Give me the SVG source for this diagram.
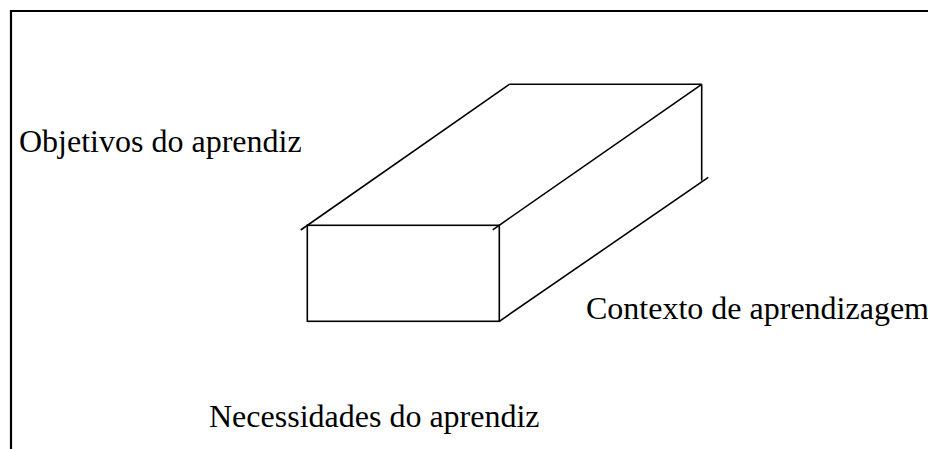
<svg xmlns="http://www.w3.org/2000/svg" width="928" height="449" viewBox="0 0 928 449">
<style>
.frame{fill:none;stroke:#000;stroke-width:2.2}
.edge{fill:none;stroke:#000;stroke-width:1.6;stroke-linecap:butt}
.lbl{font-family:"Liberation Serif","Times New Roman",serif;font-size:32px;fill:#000}
</style>
<rect width="928" height="449" fill="#fff"/>
<g id="frame">
<polyline class="frame" points="11,449 11,11 928,11"/>
</g>
<g id="box">
<rect class="edge" x="307.3" y="225.3" width="192" height="96"/>
<line class="edge" x1="300.7" y1="230" x2="509.3" y2="84.3"/>
<line class="edge" x1="509.3" y1="84.3" x2="701.7" y2="84.3"/>
<line class="edge" x1="701.7" y1="84.3" x2="701.7" y2="180.7"/>
<line class="edge" x1="492.7" y1="229.8" x2="701.7" y2="84.3"/>
<line class="edge" x1="499.3" y1="321.3" x2="708.3" y2="177.3"/>
</g>
<g id="label-objetivos"><text class="lbl" x="19" y="152">Objetivos do aprendiz</text></g>
<g id="label-contexto"><text class="lbl" x="586" y="319">Contexto de aprendizagem</text></g>
<g id="label-necessidades"><text class="lbl" x="209" y="427">Necessidades do aprendiz</text></g>
</svg>
